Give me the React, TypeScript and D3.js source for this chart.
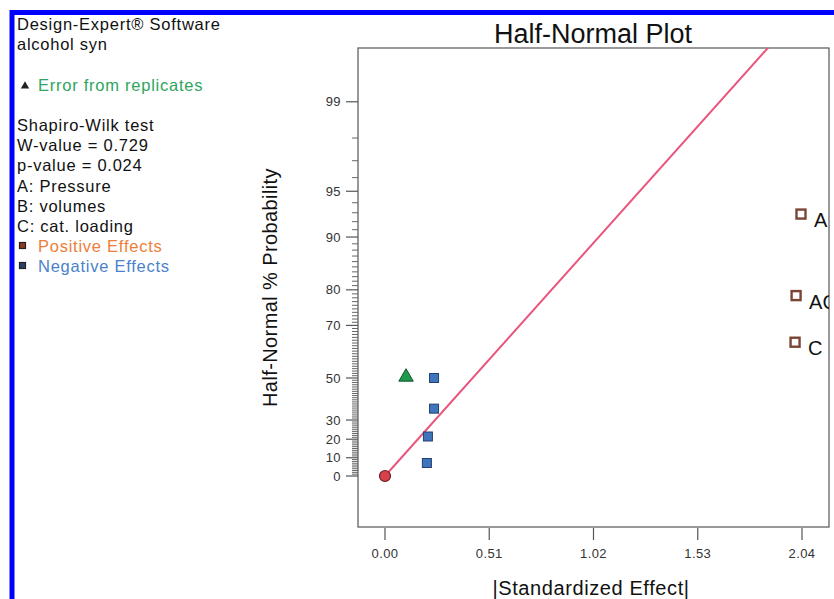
import React, { useEffect, useRef } from 'react';
import * as d3 from 'd3';

// effects
const effectLabels = ['', '', '', '', 'C', 'AC', 'A'];
const effectSizes = [0.205, 0.21, 0.24, 0.24, 2.006, 2.011, 2.035];
const effectPercents = [7.14, 21.43, 35.71, 50, 64.29, 78.57, 92.86];
const effectSigns = ['neg', 'neg', 'neg', 'neg', 'pos', 'pos', 'pos'];

const errorSizes = [0.103];
const errorPercents = [50];

const originSizes = [0];
const originPercents = [0];

const fitSizes = [0, 1.874];
const fitPercents = [0, 99.68];

const yMajorTicks = [0, 10, 20, 30, 50, 70, 80, 90, 95, 99];
const xTicks = [0, 0.51, 1.02, 1.53, 2.04];

const infoLines = [
  'Shapiro-Wilk test',
  'W-value = 0.729',
  'p-value = 0.024',
  'A: Pressure',
  'B: volumes',
  'C: cat. loading',
];

// inverse normal cdf (Acklam)
function probit(p: number) {
  const a = [-3.969683028665376e1, 2.209460984245205e2, -2.759285104469687e2, 1.38357751867269e2, -3.066479806614716e1, 2.506628277459239];
  const b = [-5.447609879822406e1, 1.615858368580409e2, -1.556989798598866e2, 6.680131188771972e1, -1.328068155288572e1];
  const c = [-7.784894002430293e-3, -3.223964580411365e-1, -2.400758277161838, -2.549732539343734, 4.374664141464968, 2.938163982698783];
  const d = [7.784695709041462e-3, 3.224671290700398e-1, 2.445134137142996, 3.754408661907416];
  const pl = 0.02425;
  if (p < pl) {
    const q = Math.sqrt(-2 * Math.log(p));
    return (((((c[0] * q + c[1]) * q + c[2]) * q + c[3]) * q + c[4]) * q + c[5]) / ((((d[0] * q + d[1]) * q + d[2]) * q + d[3]) * q + 1);
  }
  if (p > 1 - pl) {
    const q = Math.sqrt(-2 * Math.log(1 - p));
    return -(((((c[0] * q + c[1]) * q + c[2]) * q + c[3]) * q + c[4]) * q + c[5]) / ((((d[0] * q + d[1]) * q + d[2]) * q + d[3]) * q + 1);
  }
  const q = p - 0.5;
  const r = q * q;
  return (((((a[0] * r + a[1]) * r + a[2]) * r + a[3]) * r + a[4]) * r + a[5]) * q / (((((b[0] * r + b[1]) * r + b[2]) * r + b[3]) * r + b[4]) * r + 1);
}

// half-normal % probability -> z
const halfZ = (pct: number) => (pct <= 0 ? 0 : probit(0.5 + pct / 200));

export default function App() {
  const svgRef = useRef<SVGSVGElement>(null);

  const width = 834;
  const height = 599;
  const frame = { left: 358, right: 829, top: 48, bottom: 527 };

  useEffect(() => {
    const svg = d3.select(svgRef.current);
    svg.selectAll('*').remove();
    const font = '"Liberation Sans", Arial, sans-serif';

    const x = d3.scaleLinear().domain([-0.132, 2.172]).range([frame.left, frame.right]);
    const zScale = d3.scaleLinear().domain([-0.351, 2.946]).range([frame.bottom, frame.top]);
    const y = (pct: number) => zScale(halfZ(pct));

    // blue border
    svg.append('path')
      .attr('d', `M12,${height} L12,12.5 L${width},12.5`)
      .attr('fill', 'none')
      .attr('stroke', '#0000ff')
      .attr('stroke-width', 5);

    // left text block
    const tx = 17;
    const leftText = (sel: any, color: string) => sel
      .style('font-family', font).style('font-size', '16.5px')
      .style('letter-spacing', '0.75px').attr('fill', color);

    leftText(svg.append('text').attr('x', tx).attr('y', 30).text('Design-Expert® Software'), '#111');
    leftText(svg.append('text').attr('x', tx).attr('y', 50).text('alcohol syn'), '#111');

    svg.append('path')
      .attr('d', d3.symbol(d3.symbolTriangle, 30)())
      .attr('transform', 'translate(25,86)')
      .attr('fill', '#222');
    leftText(svg.append('text').attr('x', 38).attr('y', 91).text('Error from replicates'), '#2ea55e');

    leftText(svg.selectAll('.info').data(infoLines).enter().append('text')
      .attr('x', tx).attr('y', (d, i) => 131 + i * 20.2)
      .text(d => d), '#111');

    const legend = [
      { label: 'Positive Effects', color: '#ee7d3a', mark: '#8a3a20' },
      { label: 'Negative Effects', color: '#4a82cc', mark: '#2a3f6a' },
    ];
    legend.forEach((l, i) => {
      svg.append('rect').attr('x', 19.5).attr('y', 242.5 + i * 20).attr('width', 6).attr('height', 6)
        .attr('fill', l.mark).attr('stroke', '#222').attr('stroke-width', 1.2);
      leftText(svg.append('text').attr('x', 38).attr('y', 252 + i * 20).text(l.label), l.color);
    });

    // title
    svg.append('text').attr('x', 593).attr('y', 43).attr('text-anchor', 'middle')
      .text('Half-Normal Plot')
      .style('font-family', font).style('font-size', '27px').attr('fill', '#111');

    // frame
    svg.append('rect')
      .attr('x', frame.left).attr('y', frame.top)
      .attr('width', frame.right - frame.left).attr('height', frame.bottom - frame.top)
      .attr('fill', 'none').attr('stroke', '#555').attr('stroke-width', 1.2);

    // y ticks
    const minor: number[] = [];
    for (let p = 1; p <= 98; p++) if (!yMajorTicks.includes(p)) minor.push(p);
    svg.selectAll('.ymin').data(minor).enter().append('line')
      .attr('x1', frame.left - 6).attr('x2', frame.left)
      .attr('y1', d => y(d)).attr('y2', d => y(d))
      .attr('stroke', '#666').attr('stroke-width', 1);
    svg.selectAll('.ymaj').data(yMajorTicks).enter().append('line')
      .attr('x1', frame.left - 12).attr('x2', frame.left)
      .attr('y1', d => y(d)).attr('y2', d => y(d))
      .attr('stroke', '#555').attr('stroke-width', 1.2);
    svg.selectAll('.ylab').data(yMajorTicks).enter().append('text')
      .attr('x', frame.left - 17).attr('y', d => y(d) + 4.5)
      .attr('text-anchor', 'end')
      .text(d => d)
      .style('font-family', font).style('font-size', '13px').style('letter-spacing', '0.4px').attr('fill', '#333');

    svg.append('text')
      .attr('transform', `translate(277,${(frame.top + frame.bottom) / 2}) rotate(-90)`)
      .attr('text-anchor', 'middle')
      .text('Half-Normal % Probability')
      .style('font-family', font).style('font-size', '20px').style('letter-spacing', '0.4px').attr('fill', '#111');

    // x ticks
    svg.selectAll('.xt').data(xTicks).enter().append('line')
      .attr('x1', d => x(d)).attr('x2', d => x(d))
      .attr('y1', frame.bottom + 1).attr('y2', frame.bottom + 13)
      .attr('stroke', '#555').attr('stroke-width', 1.2);
    svg.selectAll('.xl').data(xTicks).enter().append('text')
      .attr('x', d => x(d)).attr('y', 558)
      .attr('text-anchor', 'middle')
      .text(d => d.toFixed(2))
      .style('font-family', font).style('font-size', '13px').style('letter-spacing', '0.4px').attr('fill', '#333');
    svg.append('text').attr('x', 591).attr('y', 595).attr('text-anchor', 'middle')
      .text('|Standardized Effect|')
      .style('font-family', font).style('font-size', '20px').style('letter-spacing', '0.6px').attr('fill', '#111');

    // plot area with clip
    svg.append('clipPath').attr('id', 'plotclip').append('rect')
      .attr('x', frame.left).attr('y', frame.top)
      .attr('width', frame.right - frame.left).attr('height', frame.bottom - frame.top);
    const g = svg.append('g').attr('clip-path', 'url(#plotclip)');

    const fit = fitSizes.map((s, i) => [x(s), y(fitPercents[i])] as [number, number]);
    g.append('path').attr('d', d3.line()(fit)!)
      .attr('fill', 'none').attr('stroke', '#e9557c').attr('stroke-width', 2);

    const effects = effectSizes.map((s, i) => ({
      size: s, pct: effectPercents[i], sign: effectSigns[i], label: effectLabels[i],
    }));

    g.selectAll('.neg').data(effects.filter(e => e.sign === 'neg')).enter().append('rect')
      .attr('x', d => x(d.size) - 4.5).attr('y', d => y(d.pct) - 4.5)
      .attr('width', 9).attr('height', 9)
      .attr('fill', '#3f75bd').attr('stroke', '#24406e').attr('stroke-width', 1);

    g.selectAll('.pos').data(effects.filter(e => e.sign === 'pos')).enter().append('rect')
      .attr('x', d => x(d.size) - 4.5).attr('y', d => y(d.pct) - 4.5)
      .attr('width', 9).attr('height', 9)
      .attr('fill', '#fff').attr('stroke', '#7a4535').attr('stroke-width', 2.4);

    g.selectAll('.lab').data(effects.filter(e => e.label)).enter().append('text')
      .attr('x', d => x(d.size) + 13).attr('y', d => y(d.pct) + 13)
      .text(d => d.label)
      .style('font-family', font).style('font-size', '20px').attr('fill', '#111');

    g.selectAll('.err').data(errorSizes).enter().append('path')
      .attr('d', d3.symbol(d3.symbolTriangle, 90)())
      .attr('transform', (d, i) => `translate(${x(d)},${y(errorPercents[i]) - 1})`)
      .attr('fill', '#1f9a4c').attr('stroke', '#14502a').attr('stroke-width', 1);

    g.selectAll('.orig').data(originSizes).enter().append('circle')
      .attr('cx', d => x(d)).attr('cy', (d, i) => y(originPercents[i]))
      .attr('r', 5.5)
      .attr('fill', '#d8404c').attr('stroke', '#6a2024').attr('stroke-width', 1.2);
  }, []);

  return (
    <svg ref={svgRef} width={width} height={height}
      style={{ position: 'absolute', left: 0, top: 0, background: '#fff' }} />
  );
}
